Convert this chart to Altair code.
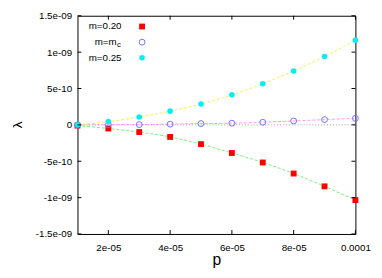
import altair as alt
import pandas as pd

# data
p = [1e-5, 2e-5, 3e-5, 4e-5, 5e-5, 6e-5, 7e-5, 8e-5, 9e-5, 1e-4]
lam_020 = [-0.1e-10, -0.5e-10, -0.99e-10, -1.66e-10, -2.65e-10, -3.87e-10, -5.17e-10, -6.69e-10, -8.45e-10, -10.34e-10]
lam_mc = [0.0, 0.03e-10, 0.04e-10, 0.1e-10, 0.18e-10, 0.23e-10, 0.36e-10, 0.54e-10, 0.72e-10, 0.9e-10]
lam_025 = [0.0, 0.45e-10, 1.08e-10, 1.89e-10, 2.87e-10, 4.13e-10, 5.66e-10, 7.41e-10, 9.39e-10, 11.63e-10]

x_ticks = [2e-5, 4e-5, 6e-5, 8e-5, 1e-4]
x_tick_labels = ["2e-05", "4e-05", "6e-05", "8e-05", "0.0001"]
y_ticks = [-1.5e-9, -1e-9, -5e-10, 0, 5e-10, 1e-9, 1.5e-9]
y_tick_labels = ["-1.5e-09", "-1e-09", "-5e-10", "0", "5e-10", "1e-09", "1.5e-09"]

W, H = 284, 223
FONT = "Liberation Sans"

df20 = pd.DataFrame({"p": p, "lam": lam_020})
dfmc = pd.DataFrame({"p": p, "lam": lam_mc})
df25 = pd.DataFrame({"p": p, "lam": lam_025})
dxt = pd.DataFrame({"p": x_ticks})
dyt = pd.DataFrame({"lam": y_ticks})
dzero = pd.DataFrame({"lam": [0.0]})
one = pd.DataFrame({"z": [0]})

xlab_expr = "[" + ",".join(f"'{s}'" for s in x_tick_labels) + "][round(datum.value*1e5/2)-1]"
ylab_expr = "[" + ",".join(f"'{s}'" for s in y_tick_labels) + "][round(datum.value*1e10/5)+3]"

xs = alt.Scale(domain=[1e-5, 1e-4], nice=False, zero=False)
ys = alt.Scale(domain=[-1.5e-9, 1.5e-9], nice=False, zero=False)

x_axis = alt.Axis(
    values=x_ticks, labelExpr=xlab_expr, ticks=False, tickSize=0, domain=False, grid=False,
    labelOverlap=False, labelFlush=False,
    labelFont=FONT, labelFontSize=10, labelColor="black", labelPadding=9,
    title="p", titleFont=FONT, titleFontSize=16, titleFontWeight="normal", titleColor="black",
    titleY=31, titleBaseline="alphabetic")
y_axis = alt.Axis(
    values=y_ticks, labelExpr=ylab_expr, ticks=False, tickSize=0, domain=False, grid=False,
    labelOverlap=False, labelFlush=False,
    labelFont=FONT, labelFontSize=10, labelColor="black", labelPadding=6,
    title="λ", titleFont=FONT, titleFontSize=14, titleFontWeight="normal", titleColor="black",
    titleX=-57, titleY=111, titleAngle=270, titleAlign="center", titleBaseline="alphabetic")

X = alt.X("p:Q", scale=xs, axis=x_axis)
Y = alt.Y("lam:Q", scale=ys, axis=y_axis)

zero = alt.Chart(dzero).mark_rule(color="#a0a0a0", strokeWidth=1, strokeDash=[1, 2]).encode(
    y=Y, x=alt.value(0), x2=alt.value(W))

def fit(df, color):
    return alt.Chart(df).mark_line(color=color, strokeWidth=1, strokeDash=[3, 2],
                                   interpolate="monotone", opacity=0.9).encode(x=X, y=Y)

l20 = fit(df20, "#66ee66")
lmc = fit(dfmc, "#ff88ff")
l25 = fit(df25, "#eeee44")

p20 = alt.Chart(df20).mark_point(shape="square", filled=True, color="#ff0000", size=36, opacity=1).encode(x=X, y=Y)
pmc = alt.Chart(dfmc).mark_point(shape="circle", filled=False, color="#7070ff", size=36, strokeWidth=1, opacity=1).encode(x=X, y=Y)
p25 = alt.Chart(df25).mark_point(shape="circle", filled=True, color="#00f0f0", size=32, opacity=1).encode(x=X, y=Y)

TL = 4
tick_col = "black"
xb = alt.Chart(dxt).mark_rule(color=tick_col, strokeWidth=1).encode(
    x=X, y=alt.value(H), y2=alt.value(H - TL))
xt = alt.Chart(dxt).mark_rule(color=tick_col, strokeWidth=1).encode(
    x=X, y=alt.value(0), y2=alt.value(TL))
yl = alt.Chart(dyt).mark_rule(color=tick_col, strokeWidth=1).encode(
    y=Y, x=alt.value(0), x2=alt.value(TL))
yr = alt.Chart(dyt).mark_rule(color=tick_col, strokeWidth=1).encode(
    y=Y, x=alt.value(W), x2=alt.value(W - TL))

# manual legend (text right of which sits the symbol)
def ltext(txt, x, y, size=10, align="right", dy=0):
    return alt.Chart(one).mark_text(text=txt, font=FONT, fontSize=size, align=align,
                                    baseline="middle", color="black", dy=dy).encode(
        x=alt.value(x), y=alt.value(y))

leg = [
    ltext("m=0.20", 45, 11),
    alt.Chart(one).mark_point(shape="square", filled=True, color="#ff0000", size=36, opacity=1).encode(
        x=alt.value(66), y=alt.value(11)),
    ltext("m=m", 40, 27),
    ltext("c", 40.5, 27, size=8, align="left", dy=3),
    alt.Chart(one).mark_point(shape="circle", filled=False, color="#7070ff", size=36, strokeWidth=1, opacity=1).encode(
        x=alt.value(66), y=alt.value(27)),
    ltext("m=0.25", 45, 43),
    alt.Chart(one).mark_point(shape="circle", filled=True, color="#00f0f0", size=32, opacity=1).encode(
        x=alt.value(66), y=alt.value(43)),
]

chart = alt.layer(l20, zero, lmc, l25, p20, pmc, p25, xb, xt, yl, yr, *leg).properties(
    width=W, height=H,
    background="white",
    autosize=alt.AutoSizeParams(type="none"),
    padding={"left": 71, "top": 5, "right": 19, "bottom": 40},
).configure_view(stroke="black", strokeWidth=1)

chart.save("out.html", embed_options={"renderer": "svg", "actions": False})
